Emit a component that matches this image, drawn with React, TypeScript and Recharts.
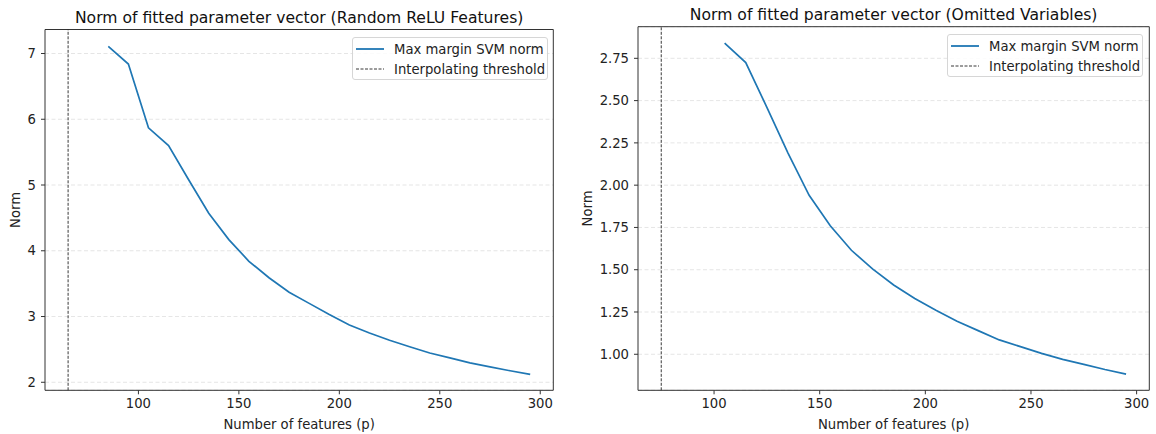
import { LineChart, Line, XAxis, YAxis, CartesianGrid, ReferenceLine, Legend } from "recharts"

// features (p) and fitted norms
const reluP = [85, 95, 105, 115, 125, 135, 145, 155, 165, 175, 185, 195, 205, 215, 225, 235, 245, 255, 265, 275, 285, 295]
const reluNorm = [7.11, 6.84, 5.87, 5.6, 5.08, 4.57, 4.17, 3.84, 3.59, 3.37, 3.2, 3.03, 2.87, 2.75, 2.64, 2.54, 2.445, 2.37, 2.295, 2.235, 2.175, 2.12]
const reluThreshold = 65
const reluYTicks = [2, 3, 4, 5, 6, 7]

const omitP = [105, 115, 125, 135, 145, 155, 165, 175, 185, 195, 205, 215, 225, 235, 245, 255, 265, 275, 285, 295]
const omitNorm = [2.84, 2.725, 2.46, 2.19, 1.94, 1.76, 1.615, 1.505, 1.41, 1.33, 1.26, 1.195, 1.14, 1.085, 1.045, 1.005, 0.97, 0.94, 0.91, 0.883]
const omitThreshold = 75
const omitYTicks = [1.0, 1.25, 1.5, 1.75, 2.0, 2.25, 2.5, 2.75]

const xTicks = [100, 150, 200, 250, 300]
const legendNames = ["Max margin SVM norm", "Interpolating threshold"]

const FONT = "DejaVu Sans, Verdana, sans-serif"
const FS = 13.2
const BLUE = "#1f77b4"
const AXIS = "#333"

type PanelProps = {
  title: string
  titleY: number
  p: number[]
  norm: number[]
  threshold: number
  xDomain: [number, number]
  yDomain: [number, number]
  yTicks: number[]
  yFormat: (v: number) => string
  top: number
  right: number
  yWidth: number
  yLabelX: number
  legendLeft: number
  legendTop: number
}

function LegendBox({ w, h }: { w: number; h: number }) {
  return (
    <div
      style={{
        width: w,
        height: h,
        boxSizing: "border-box",
        border: "1px solid #d6d6d6",
        borderRadius: 3,
        background: "rgba(255,255,255,0.85)",
        position: "relative",
      }}
    >
      <svg width={w} height={h} style={{ position: "absolute", left: 0, top: 0 }}>
        <line x1={3} x2={31} y1={11} y2={11} stroke={BLUE} strokeWidth={1.8} />
        <line x1={3} x2={31} y1={31} y2={31} stroke="#222" strokeWidth={0.9} strokeDasharray="3 1.5" />
        <text x={41} y={15.5} fill="#222" fontSize={FS} fontFamily={FONT}>{legendNames[0]}</text>
        <text x={41} y={35.5} fill="#222" fontSize={FS} fontFamily={FONT}>{legendNames[1]}</text>
      </svg>
    </div>
  )
}

function Panel(props: PanelProps) {
  const data = props.p.map((x, i) => ({ p: x, norm: props.norm[i] }))
  const width = 578
  const height = 434
  const xHeight = 43.7
  return (
    <LineChart
      width={width}
      height={height}
      data={data}
      margin={{ top: props.top, right: props.right, left: 0, bottom: 0 }}
      style={{ fontFamily: FONT }}
    >
      <CartesianGrid horizontal vertical={false} stroke="#dedede" strokeDasharray="4 2.5" strokeWidth={0.8} />
      <XAxis
        dataKey="p"
        type="number"
        domain={props.xDomain}
        ticks={xTicks}
        allowDataOverflow
        height={xHeight}
        tickSize={4}
        tickMargin={4}
        stroke={AXIS}
        tick={{ fill: "#222", fontSize: FS, fontFamily: FONT }}
        label={{
          content: ({ viewBox }: any) => (
            <text
              x={viewBox.x + viewBox.width / 2}
              y={viewBox.y + 38.5}
              textAnchor="middle"
              fill="#222"
              fontSize={FS}
              fontFamily={FONT}
            >
              Number of features (p)
            </text>
          ),
        }}
      />
      <YAxis
        type="number"
        domain={props.yDomain}
        ticks={props.yTicks}
        allowDataOverflow
        width={props.yWidth}
        tickSize={4}
        tickMargin={5}
        stroke={AXIS}
        tickFormatter={props.yFormat}
        tick={{ fill: "#222", fontSize: FS, fontFamily: FONT }}
        label={{
          content: ({ viewBox }: any) => {
            const cy = viewBox.y + viewBox.height / 2
            return (
              <text
                x={props.yLabelX}
                y={cy}
                transform={`rotate(-90, ${props.yLabelX}, ${cy})`}
                textAnchor="middle"
                dominantBaseline="middle"
                fill="#222"
                fontSize={FS}
                fontFamily={FONT}
              >
                Norm
              </text>
            )
          },
        }}
      />
      {/* top and right spines */}
      <ReferenceLine y={props.yDomain[1]} stroke={AXIS} strokeWidth={1} />
      <ReferenceLine x={props.xDomain[1]} stroke={AXIS} strokeWidth={1} />
      <ReferenceLine x={props.threshold} stroke="#222" strokeWidth={0.9} strokeDasharray="3 1.5" />
      <Line
        type="linear"
        dataKey="norm"
        stroke={BLUE}
        strokeWidth={1.7}
        dot={false}
        activeDot={false}
        isAnimationActive={false}
      />
      <Legend
        layout="vertical"
        align="center"
        verticalAlign="middle"
        wrapperStyle={{ position: "absolute", left: props.legendLeft, top: props.legendTop, width: 196, height: 43 }}
        content={() => <LegendBox w={196} h={43} />}
      />
      <text
        x={props.yWidth + (width - props.yWidth - props.right) / 2}
        y={props.titleY}
        textAnchor="middle"
        fill="#111"
        fontSize={15.6}
        fontFamily={FONT}
      >
        {props.title}
      </text>
    </LineChart>
  )
}

export default function App() {
  return (
    <div style={{ position: "absolute", left: 0, top: 0, width: 1156, height: 434, background: "#fff", display: "flex" }}>
      <Panel
        title="Norm of fitted parameter vector (Random ReLU Features)"
        titleY={23}
        p={reluP}
        norm={reluNorm}
        threshold={reluThreshold}
        xDomain={[53.5, 306.5]}
        yDomain={[1.878, 7.365]}
        yTicks={reluYTicks}
        yFormat={(v) => String(v)}
        top={29.5}
        right={24.7}
        yWidth={45}
        yLabelX={16}
        legendLeft={352}
        legendTop={37}
      />
      <Panel
        title="Norm of fitted parameter vector (Omitted Variables)"
        titleY={19.5}
        p={omitP}
        norm={omitNorm}
        threshold={omitThreshold}
        xDomain={[64, 306]}
        yDomain={[0.787, 2.937]}
        yTicks={omitYTicks}
        yFormat={(v) => v.toFixed(2)}
        top={26.7}
        right={6.7}
        yWidth={60}
        yLabelX={10}
        legendLeft={368.5}
        legendTop={34}
      />
    </div>
  )
}
